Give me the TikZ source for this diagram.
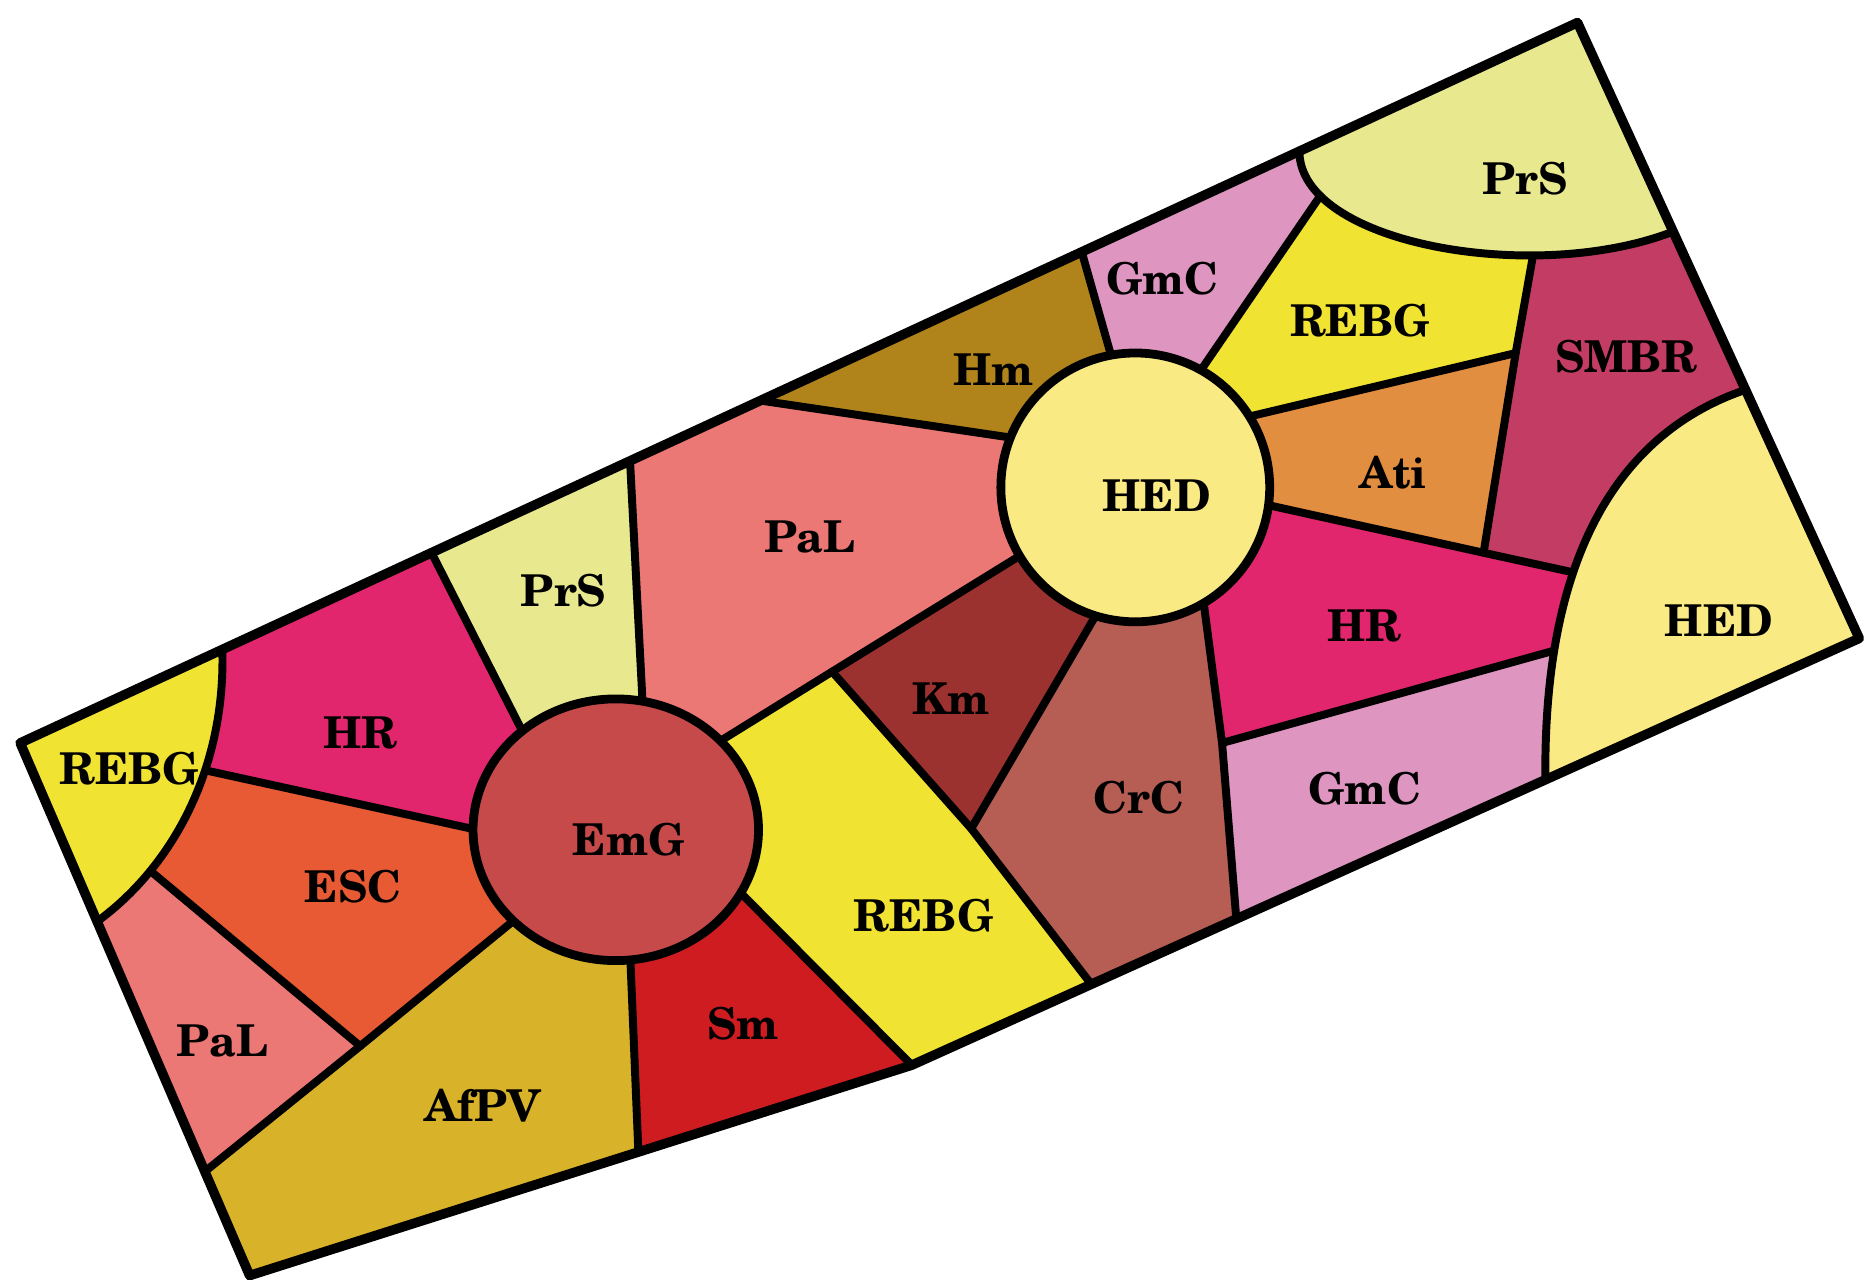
\documentclass[tikz,border=0pt]{standalone}
\usepackage{fontspec}
\setmainfont{TeX Gyre Schola}
\definecolor{cREBG}{RGB}{240,227,50}
\definecolor{cHR}{RGB}{226,38,110}
\definecolor{cPrS}{RGB}{232,232,142}
\definecolor{cPaL}{RGB}{236,120,118}
\definecolor{cHm}{RGB}{176,132,26}
\definecolor{cGmC}{RGB}{222,150,192}
\definecolor{cSMBR}{RGB}{194,60,100}
\definecolor{cAti}{RGB}{226,142,64}
\definecolor{cHED}{RGB}{250,234,132}
\definecolor{cCrC}{RGB}{182,94,84}
\definecolor{cKm}{RGB}{156,50,48}
\definecolor{cEmG}{RGB}{198,74,74}
\definecolor{cSm}{RGB}{206,28,32}
\definecolor{cAfPV}{RGB}{216,178,40}
\definecolor{cESC}{RGB}{232,90,52}
\tikzset{
  border/.style={draw=black,line width=1.9pt},
  ringline/.style={draw=black,line width=2.1pt},
  outerline/.style={draw=black,line width=2.3pt},
  lbl/.style={font=\fontsize{10.5}{12}\selectfont\bfseries,text=black,inner sep=0pt}
}
\begin{document}
\begin{tikzpicture}[x=0.01cm,y=-0.01cm,line join=round,line cap=round]
\useasboundingbox (0,0) rectangle (1568,1076);
% outer corners
\coordinate (A) at (17,625);
\coordinate (B) at (1327,19);
\coordinate (C) at (1564,537);
\coordinate (K) at (767,896);
\coordinate (D) at (210,1073);
% boundary points
\coordinate (t1) at (187,546);
\coordinate (t2) at (363,465);
\coordinate (t3) at (530,388);
\coordinate (t4) at (640,337);
\coordinate (t5) at (910,212);
\coordinate (t6) at (1093,127);
\coordinate (r1) at (1407,195);
\coordinate (r2) at (1468,328);
\coordinate (b1) at (1300,656);
\coordinate (b2) at (1040,773);
\coordinate (b3) at (918,828);
\coordinate (b4) at (537,969);
\coordinate (l1) at (82,775);
\coordinate (l2) at (173,985);
% circle centres
\coordinate (e) at (518,698);
\coordinate (h) at (955,410);
% points inside EmG
\coordinate (pe1) at (447,630);
\coordinate (pe2) at (541,600);
\coordinate (pe3) at (600,627);
\coordinate (pe4) at (612,740);
\coordinate (pe5) at (530,800);
\coordinate (pe6) at (440,768);
\coordinate (pe7) at (410,700);
% points inside HED
\coordinate (ph1) at (870,371);
\coordinate (ph2) at (940,318);
\coordinate (ph3) at (1005,319);
\coordinate (ph4) at (1040,353);
\coordinate (ph5) at (1040,419);
\coordinate (ph6) at (1009,480);
\coordinate (ph7) at (935,495);
\coordinate (ph8) at (870,460);
% junctions
\coordinate (j1) at (700,565);
\coordinate (j2) at (817,697);
\coordinate (j3) at (1275,297);
\coordinate (j4) at (1248,465);
\coordinate (j5) at (1335,484);
\coordinate (j6) at (1028,625);
\coordinate (j7) at (1330,541);
\coordinate (j8) at (303,880);
% extensions hidden under curved regions
\coordinate (x1) at (150,643);
\coordinate (x2) at (115,723);
\coordinate (x3) at (1120,151);
\coordinate (x4) at (1294,190);
\coordinate (x5) at (1335,662);

\begin{scope}
\clip (A)--(B)--(C)--(K)--(D)--cycle;
% straight-edged regions
\fill[cHR]   (t1)--(t2)--(pe1)--(e)--(pe7)--(x1)--cycle;
\fill[cPrS]  (t2)--(t3)--(pe2)--(e)--(pe1)--cycle;
\fill[cPaL]  (t3)--(t4)--(ph1)--(h)--(ph8)--(j1)--(pe3)--(e)--(pe2)--cycle;
\fill[cHm]   (t4)--(t5)--(ph2)--(h)--(ph1)--cycle;
\fill[cGmC]  (t5)--(t6)--(x3)--(ph3)--(h)--(ph2)--cycle;
\fill[cREBG] (x3)--(x4)--(j3)--(ph4)--(h)--(ph3)--cycle;
\fill[cAti]  (j3)--(j4)--(ph5)--(h)--(ph4)--cycle;
\fill[cSMBR] (x4)--(r1)--(r2)--(j5)--(j4)--(j3)--cycle;
\fill[cHR]   (h)--(ph5)--(j4)--(j5)--(j7)--(j6)--(ph6)--cycle;
\fill[cGmC]  (j6)--(j7)--(x5)--(b2)--cycle;
\fill[cCrC]  (h)--(ph6)--(j6)--(b2)--(b3)--(j2)--(ph7)--cycle;
\fill[cKm]   (h)--(ph7)--(j2)--(j1)--(ph8)--cycle;
\fill[cREBG] (pe3)--(j1)--(j2)--(b3)--(K)--(pe4)--(e)--cycle;
\fill[cSm]   (pe4)--(K)--(b4)--(pe5)--(e)--cycle;
\fill[cAfPV] (pe5)--(b4)--(D)--(l2)--(j8)--(pe6)--(e)--cycle;
\fill[cPaL]  (x2)--(j8)--(l2)--(l1)--cycle;
\fill[cESC]  (x1)--(pe7)--(e)--(pe6)--(j8)--(x2)--cycle;
% internal borders
\draw[border] (x1)--(pe7);
\draw[border] (x2)--(j8);
\draw[border] (l2)--(j8)--(pe6);
\draw[border] (t2)--(pe1);
\draw[border] (t3)--(pe2);
\draw[border] (ph8)--(j1)--(pe3);
\draw[border] (j1)--(j2)--(b3);
\draw[border] (K)--(pe4);
\draw[border] (b4)--(pe5);
\draw[border] (t4)--(ph1);
\draw[border] (t5)--(ph2);
\draw[border] (x3)--(ph3);
\draw[border] (x4)--(j3)--(j4);
\draw[border] (j3)--(ph4);
\draw[border] (ph5)--(j4)--(j5);
\draw[border] (ph7)--(j2);
\draw[border] (ph6)--(j6)--(b2);
\draw[border] (j6)--(j7);
% curved regions
\fill[cREBG] (A)--(t1) .. controls (190,640) and (150,725) .. (l1)--cycle;
\draw[border] (t1) .. controls (190,640) and (150,725) .. (l1);
\fill[cPrS] (t6) .. controls (1093,205) and (1290,240) .. (r1)--(B)--cycle;
\draw[border] (t6) .. controls (1093,205) and (1290,240) .. (r1);
\fill[cHED] (r2) .. controls (1360,365) and (1298,470) .. (b1)--(C)--cycle;
\draw[border] (r2) .. controls (1360,365) and (1298,470) .. (b1);
% circles
\draw[ringline,fill=cEmG] (e) ellipse [x radius=1.2cm, y radius=1.1cm];
\draw[ringline,fill=cHED] (h) circle [radius=1.13cm];
\end{scope}
\draw[outerline] (A)--(B)--(C)--(K)--(D)--cycle;
% labels
\node[lbl] (n1) at (109,647) {REBG};
\node[lbl] (n2) at (303,617) {HR};
\node[lbl] (n3) at (474,497) {PrS};
\node[lbl] (n4) at (681,452) {PaL};
\node[lbl] (n5) at (836,311) {Hm};
\node[lbl] (n6) at (978,234) {GmC};
\node[lbl] (n7) at (1144,270) {REBG};
\node[lbl] (n8) at (1283,150) {PrS};
\node[lbl] (n9) at (1368,300) {SMBR};
\node[lbl] (n10) at (1172,398) {Ati};
\node[lbl] (n11) at (973,417) {HED};
\node[lbl] (n12) at (1446,522) {HED};
\node[lbl] (n13) at (1148,527) {HR};
\node[lbl] (n14) at (1148,663) {GmC};
\node[lbl] (n15) at (958,671) {CrC};
\node[lbl] (n16) at (800,588) {Km};
\node[lbl] (n17) at (529,706) {EmG};
\node[lbl] (n18) at (777,770) {REBG};
\node[lbl] (n19) at (625,861) {Sm};
\node[lbl] (n20) at (406,930) {AfPV};
\node[lbl] (n21) at (297,746) {ESC};
\node[lbl] (n22) at (187,876) {PaL};
\end{tikzpicture}
\end{document}
